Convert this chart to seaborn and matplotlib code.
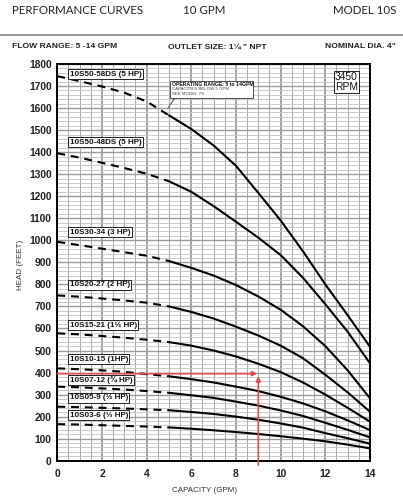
import numpy as np
import pandas as pd
import matplotlib
matplotlib.use("Agg")
import matplotlib.pyplot as plt
import seaborn as sns
from matplotlib.ticker import MultipleLocator
from matplotlib.lines import Line2D
from matplotlib.patches import Rectangle

# ---------------- data ----------------
gpm = [0, 1, 2, 3, 4, 5, 6, 7, 8, 9, 10, 11, 12, 13, 14]

models = ["10S50-58DS (5 HP)", "10S50-48DS (5 HP)", "10S30-34 (3 HP)",
          "10S20-27 (2 HP)", "10S15-21 (1½ HP)", "10S10-15 (1HP)",
          "10S07-12 (¾ HP)", "10S05-9 (½ HP)", "10S03-6 (⅓ HP)"]

head_58 = [1745, 1722, 1698, 1670, 1630, 1567, 1505, 1430, 1338, 1215, 1090, 950, 800, 660, 517]
head_48 = [1395, 1375, 1352, 1328, 1302, 1268, 1220, 1155, 1084, 1012, 933, 830, 710, 585, 442]
head_34 = [993, 978, 962, 946, 930, 906, 875, 840, 797, 745, 685, 610, 520, 410, 283]
head_27 = [750, 744, 736, 727, 717, 700, 675, 645, 608, 568, 522, 465, 390, 310, 222]
head_21 = [578, 573, 566, 558, 549, 538, 522, 500, 473, 440, 402, 355, 300, 240, 177]
head_15 = [419, 415, 410, 403, 393, 383, 370, 355, 336, 316, 290, 260, 224, 183, 139]
head_12 = [336, 333, 328, 323, 316, 308, 297, 285, 268, 250, 228, 203, 172, 140, 106]
head_9 = [245, 243, 240, 237, 233, 229, 221, 212, 200, 186, 169, 150, 125, 102, 77]
head_6 = [166, 164, 161, 158, 155, 151, 145, 138, 130, 121, 111, 100, 88, 73, 56]

heads = [head_58, head_48, head_34, head_27, head_21, head_15, head_12, head_9, head_6]

min_operating_gpm = 5
duty_gpm = 9
duty_head = 395

x_ticks = [0, 2, 4, 6, 8, 10, 12, 14]
y_ticks = list(range(0, 1801, 100))

# label heads (layout)
label_head = [1754, 1445, 1037, 799, 615, 461, 366, 286, 207]

# ---------------- build long table ----------------
rows = []
for m, h in zip(models, heads):
    for g, v in zip(gpm, h):
        if g <= min_operating_gpm:
            rows.append(dict(model=m, gpm=g, head=v, part="below"))
        if g >= min_operating_gpm:
            rows.append(dict(model=m, gpm=g, head=v, part="operating"))
df = pd.DataFrame(rows)
df["unit"] = df["model"] + "|" + df["part"]

# ---------------- figure ----------------
sns.set_theme(style="white")
plt.rcParams["font.family"] = ["Liberation Sans", "DejaVu Sans"]

W, H = 403, 500
fig = plt.figure(figsize=(W / 100, H / 100), dpi=100)
ax = fig.add_axes([57.3 / W, 1 - 460.7 / H, (370 - 57.3) / W, (460.7 - 64) / H])

sns.lineplot(data=df, x="gpm", y="head", units="unit", style="part",
             estimator=None, dashes={"below": (3.8, 2.8), "operating": ""},
             color="black", linewidth=1.5, legend=False, ax=ax, zorder=5)

ax.set_xlim(0, 14)
ax.set_ylim(0, 1800)
ax.xaxis.set_major_locator(MultipleLocator(2))
ax.xaxis.set_minor_locator(MultipleLocator(0.5))
ax.yaxis.set_major_locator(MultipleLocator(100))
ax.yaxis.set_minor_locator(MultipleLocator(20))
ax.set_xticks(x_ticks)
ax.set_yticks(y_ticks)
ax.grid(which="minor", axis="x", color="#a8a8a8", lw=0.7, zorder=0)
ax.grid(which="major", axis="x", color="#8a8a8a", lw=1.1, zorder=0)
ax.grid(which="minor", axis="y", color="#c2c2c2", lw=0.6, zorder=0)
ax.grid(which="major", axis="y", color="#999999", lw=1.0, zorder=0)
ax.set_axisbelow(True)
for s in ax.spines.values():
    s.set_color("black")
    s.set_linewidth(1.4)
    s.set_visible(True)
ax.tick_params(axis="both", which="both", length=0)
ax.tick_params(axis="y", labelsize=7.4, pad=4, colors="#222222")
ax.tick_params(axis="x", labelsize=7.4, pad=6, colors="#222222")
for t in ax.get_xticklabels() + ax.get_yticklabels():
    t.set_fontweight("bold")
ax.set_xlabel("")
ax.set_ylabel("")

fig.text(20.5 / W, 1 - 265 / H, "HEAD (FEET)", rotation=90, ha="center", va="center",
         fontsize=5.8, color="#333333")
fig.text(205 / W, 1 - 490.7 / H, "CAPACITY (GPM)", ha="center", va="center",
         fontsize=5.8, color="#333333")

# curve labels
for m, yh in zip(models, label_head):
    ax.text(0.55, yh, m, ha="left", va="center", fontsize=5.8, fontweight="bold",
            color="#111111", zorder=8,
            bbox=dict(boxstyle="square,pad=0.18", fc="white", ec="#222222", lw=0.7))

# RPM box
ax.text(12.94, 1719, "3450\nRPM", ha="center", va="center", fontsize=7.4,
        linespacing=0.95, color="#111111", zorder=8,
        bbox=dict(boxstyle="square,pad=0.12", fc="white", ec="#222222", lw=0.7))

# callout box
ax.add_patch(Rectangle((5.04, 1644), 3.73, 77, fc="white", ec="#333333", lw=0.6, zorder=7))
ax.plot([5.25, 4.96], [1644, 1601], color="#333333", lw=0.6, zorder=7)
ax.text(5.15, 1707, "OPERATING RANGE: 5 to 14GPM", fontsize=3.7, fontweight="bold",
        ha="left", va="center", color="#111111", zorder=8)
ax.text(5.15, 1685, "CAPACITIES BELOW 5 GPM", fontsize=3.2,
        ha="left", va="center", color="#444444", zorder=8)
ax.text(5.15, 1663, "SEE MODEL 7S", fontsize=3.2,
        ha="left", va="center", color="#444444", zorder=8)

# duty point red arrows
red = "#e84a55"
ax.annotate("", xy=(duty_gpm - 0.05, duty_head), xytext=(0, duty_head),
            arrowprops=dict(arrowstyle="-|>", color=red, lw=1.2, mutation_scale=7,
                            shrinkA=0, shrinkB=0), zorder=9)
ax.annotate("", xy=(duty_gpm, duty_head - 12), xytext=(duty_gpm, -20),
            arrowprops=dict(arrowstyle="-|>", color=red, lw=1.2, mutation_scale=7,
                            shrinkA=0, shrinkB=0), zorder=9, annotation_clip=False)

# header
hfont = ["Lato", "DejaVu Sans"]
fig.text(12.5 / W, 1 - 10 / H, "PERFORMANCE CURVES", fontsize=8.3, family=hfont,
         ha="left", va="center", color="#222222")
fig.text(183 / W, 1 - 10 / H, "10 GPM", fontsize=8.3, family=hfont,
         ha="left", va="center", color="#222222")
fig.text(396 / W, 1 - 10 / H, "MODEL 10S", fontsize=8.3, family=hfont,
         ha="right", va="center", color="#222222")
fig.add_artist(Line2D([0, 1], [1 - 34.5 / H] * 2, color="#9a9a9a", lw=1.5))
fig.text(12.5 / W, 1 - 47 / H, "FLOW RANGE: 5 -14 GPM", fontsize=6.1, fontweight="bold",
         ha="left", va="center", color="#222222")
fig.text(168 / W, 1 - 47 / H, "OUTLET SIZE: 1¼ \" NPT", fontsize=6.1, fontweight="bold",
         ha="left", va="center", color="#222222")
fig.text(396 / W, 1 - 47 / H, "NOMINAL DIA. 4\"", fontsize=6.1, fontweight="bold",
         ha="right", va="center", color="#222222")

fig.savefig("out.png", dpi=100, facecolor="white")
